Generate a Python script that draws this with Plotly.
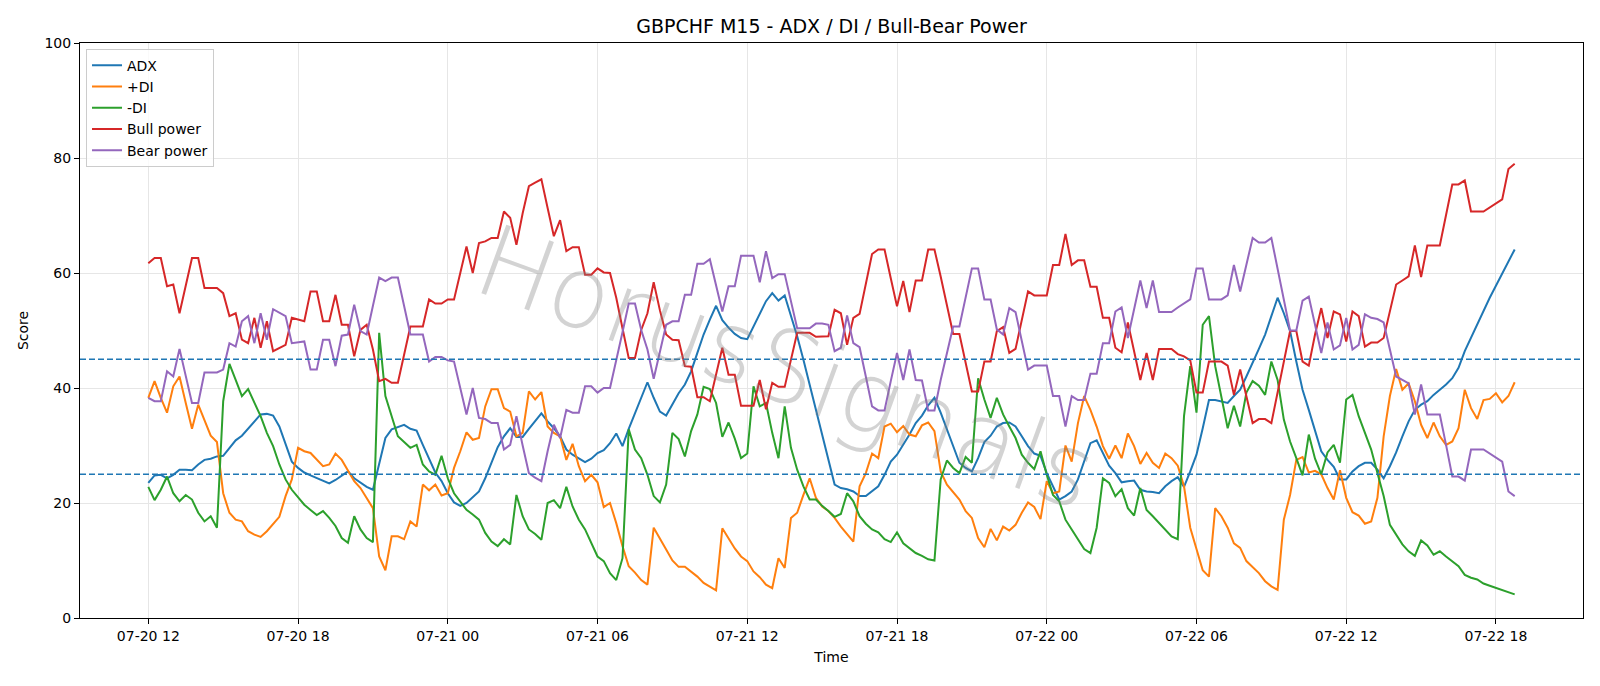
import pandas as pd
import plotly.graph_objects as go

# ---------------- data (M15 bars starting 07-20 12:00) ----------------
START = "2025-07-20 12:00"
N_BARS = 220
times = pd.date_range(START, periods=N_BARS, freq="15min")

adx = [
    23.5, 24.8, 24.9, 24.3, 24.9, 25.8, 25.8, 25.7, 26.7, 27.5,
    27.7, 28.1, 28.2, 29.6, 30.9, 31.7, 32.9, 34.2, 35.4, 35.5,
    35.2, 33.3, 30.4, 27.2, 26.1, 25.3, 24.8, 24.3, 23.8, 23.4,
    24.0, 24.8, 25.5, 24.3, 23.5, 22.8, 22.3, 27.0, 31.3, 32.8,
    33.2, 33.6, 32.9, 32.6, 30.1, 27.8, 25.3, 23.8, 21.7, 20.1,
    19.5, 20.0, 21.0, 22.0, 24.3, 27.0, 29.7, 31.6, 33.0, 31.5,
    31.5, 32.9, 34.2, 35.6, 34.2, 33.0, 31.6, 29.3, 28.4, 27.7,
    27.1, 27.7, 28.7, 29.2, 30.4, 32.1, 29.9, 32.9, 35.7, 38.3,
    41.0, 38.3, 35.9, 35.2, 37.1, 39.1, 40.6, 42.9, 46.1, 49.3,
    51.9, 54.3, 51.8, 50.5, 49.4, 48.7, 48.5, 50.7, 53.0, 55.1,
    56.5, 55.2, 56.1, 52.5, 49.0, 44.9, 40.6, 36.2, 31.6, 27.2,
    23.2, 22.6, 22.4, 22.0, 21.2, 21.2, 22.0, 22.9, 24.9, 27.2,
    28.4, 30.1, 31.9, 33.9, 35.2, 37.0, 38.3, 35.7, 32.8, 29.6,
    27.0, 26.1, 25.5, 27.8, 30.6, 31.7, 33.3, 33.9, 34.0, 33.3,
    31.6, 29.9, 28.6, 28.2, 25.2, 22.9, 20.6, 21.2, 22.0, 24.1,
    27.2, 30.4, 30.9, 28.8, 26.5, 25.2, 23.6, 23.8, 23.9, 22.3,
    22.0, 21.9, 21.7, 22.9, 23.8, 24.5, 22.8, 25.5, 28.4, 33.0,
    37.9, 37.9, 37.7, 37.4, 38.6, 39.7, 42.0, 44.3, 46.8, 49.3,
    52.5, 55.7, 53.0, 49.9, 44.6, 39.7, 36.2, 32.5, 29.0, 27.5,
    26.3, 24.1, 24.1, 25.5, 26.4, 27.0, 27.0, 25.8, 24.3, 26.4,
    28.8, 31.6, 34.2, 36.2, 37.1, 37.7, 38.8, 39.7, 40.6, 41.7,
    43.5, 46.4, None, None, None, 55.7, None, None, None, 64.1,
]

plus_di = [
    38.3, 41.2, 38.3, 35.7, 40.3, 42.0, 37.4, 32.9, 37.1, 34.5,
    31.7, 30.6, 21.7, 18.3, 17.1, 16.8, 15.1, 14.5, 14.1, 15.1,
    16.4, 17.6, 21.2, 24.1, 29.6, 29.0, 28.7, 27.5, 26.4, 26.7,
    28.6, 27.5, 25.6, 23.8, 22.6, 20.9, 19.1, 10.7, 8.3, 14.2,
    14.2, 13.7, 16.8, 15.9, 23.2, 22.2, 23.2, 21.3, 21.7, 26.1,
    29.0, 32.3, 31.0, 31.3, 36.8, 39.8, 39.8, 36.5, 35.9, 31.6,
    32.2, 39.4, 38.0, 39.3, 33.3, 32.2, 31.6, 27.5, 30.3, 26.4,
    23.8, 24.9, 23.6, 19.3, 20.0, 16.5, 12.5, 9.0, 7.9, 6.6,
    5.8, 15.7, 13.9, 11.9, 10.0, 8.9, 8.9, 8.1, 7.2, 6.1,
    5.4, 4.8, 15.6, 13.8, 12.1, 10.7, 9.9, 8.1, 7.1, 5.8,
    5.2, 10.4, 8.7, 17.4, 18.3, 21.4, 24.3, 20.9, 19.4, 18.6,
    17.4, 15.9, 14.5, 13.3, 22.9, 25.2, 28.6, 27.8, 33.3, 33.8,
    32.3, 33.4, 31.9, 31.6, 33.5, 34.0, 32.5, 25.5, 23.2, 21.9,
    20.6, 18.6, 17.4, 13.9, 12.3, 15.5, 13.5, 15.9, 15.2, 16.2,
    18.3, 20.1, 19.3, 17.2, 23.8, 21.7, 22.0, 30.0, 27.2, 33.9,
    38.6, 36.2, 33.3, 29.9, 27.7, 30.0, 27.8, 32.1, 29.9, 26.8,
    28.7, 27.0, 26.1, 28.6, 27.8, 26.5, 22.9, 15.7, 11.9, 8.3,
    7.2, 19.1, 17.7, 15.7, 13.0, 12.2, 9.9, 8.9, 7.8, 6.4,
    5.5, 4.9, 17.1, 21.4, 27.5, 28.0, 25.3, 25.6, 25.0, 22.6,
    20.6, 25.7, 20.9, 18.4, 17.8, 16.4, 16.8, 20.9, 31.6, 38.6,
    43.3, 39.7, 40.8, 37.7, 33.6, 31.3, 34.0, 31.6, 30.1, 30.7,
    33.0, 39.7, 36.5, 34.6, 37.9, 38.1, 39.1, 37.5, 38.6, 41.0,
]

minus_di = [
    22.8, 20.5, 22.3, 24.6, 21.7, 20.3, 21.4, 20.6, 18.3, 16.8,
    17.7, 15.7, 37.7, 44.2, 41.4, 38.6, 39.8, 37.4, 35.1, 32.2,
    29.9, 26.7, 24.1, 22.3, 20.9, 19.7, 18.8, 17.9, 18.6, 17.4,
    16.0, 13.9, 13.1, 17.7, 15.4, 13.9, 13.2, 49.6, 38.6, 35.1,
    31.6, 30.6, 29.6, 30.1, 26.7, 25.5, 24.9, 28.2, 24.3, 21.7,
    20.3, 18.8, 18.0, 17.1, 14.8, 13.3, 12.5, 13.7, 12.8, 21.4,
    17.7, 15.4, 14.6, 13.6, 20.0, 20.5, 19.1, 22.8, 19.4, 17.1,
    15.4, 13.0, 10.7, 9.9, 7.8, 6.6, 10.4, 32.8, 29.3, 27.8,
    24.9, 21.2, 20.1, 23.2, 32.2, 31.1, 28.1, 32.5, 35.4, 40.2,
    39.8, 37.4, 31.5, 34.0, 31.2, 27.8, 28.6, 40.3, 36.8, 37.4,
    32.2, 27.8, 36.8, 29.6, 25.8, 22.9, 20.6, 20.6, 19.5, 18.6,
    17.6, 18.1, 21.7, 20.3, 17.7, 16.4, 15.4, 14.9, 13.7, 13.2,
    14.9, 13.0, 12.2, 11.3, 10.8, 10.2, 10.0, 24.1, 27.4, 26.1,
    25.2, 28.0, 27.0, 41.7, 38.0, 34.8, 38.3, 35.4, 33.3, 31.3,
    28.4, 27.0, 25.9, 29.0, 24.9, 21.4, 20.3, 17.1, 15.4, 13.6,
    12.0, 11.3, 15.7, 24.3, 23.5, 21.2, 22.4, 19.1, 17.8, 22.6,
    18.8, 17.7, 16.5, 15.4, 14.2, 13.7, 35.1, 43.8, 35.7, 51.0,
    52.5, 43.8, 38.6, 33.0, 36.9, 33.3, 39.2, 41.2, 40.4, 38.8,
    44.6, 41.4, 34.5, 30.7, 27.8, 24.8, 31.9, 27.7, 25.0, 28.8,
    30.1, 27.0, 38.0, 38.8, 35.1, 32.2, 29.3, 25.2, 21.2, 16.2,
    14.5, 12.8, 11.6, 10.8, 13.5, 12.6, 11.0, 11.6, 10.7, 9.9,
    9.0, 7.5, 7.0, 6.7, 6.0, 5.6, 5.2, 4.9, 4.5, 4.1,
]

bull_power = [
    61.7, 62.6, 62.6, 57.7, 58.0, 53.0, None, 62.6, 62.6, 57.4,
    57.4, 57.4, 56.5, 52.5, 53.0, 48.4, 47.8, 52.2, 47.0, 51.6,
    46.4, 47.0, 47.5, 52.2, 51.9, 51.6, 56.8, 56.8, 51.6, 51.6,
    56.2, 51.0, 51.0, 45.5, 50.1, 51.0, 46.7, 41.2, 41.6, 40.9,
    40.9, 45.8, 50.7, 50.7, 50.7, 55.4, 54.7, 54.7, 55.4, 55.4,
    60.0, 64.6, 60.0, 65.2, 65.5, 66.1, 66.1, 70.7, 69.6, 64.9,
    70.4, 75.1, 75.7, 76.3, 71.3, 66.4, 69.2, 63.8, 64.5, 64.5,
    59.7, 59.7, 60.8, 60.1, 60.0, 55.7, 50.4, 45.2, 45.2, 50.1,
    53.0, 58.4, 53.5, 49.3, 48.4, 48.3, 43.8, 43.7, 38.4, 38.4,
    37.7, None, 47.0, 42.3, 42.3, 36.9, 36.9, 36.9, 41.4, 36.3,
    40.9, 40.2, 40.2, 44.9, 49.6, 49.6, 49.6, 48.9, 48.9, 49.0,
    53.6, 53.0, 47.5, 52.2, 52.9, 58.3, 63.3, 64.1, 64.1, 59.1,
    54.2, 58.6, 53.2, 58.7, 58.7, 64.1, 64.1, 59.4, 54.5, 49.4,
    49.4, 44.6, 39.4, 39.4, 44.6, 44.6, 49.9, 50.6, 46.1, 46.8,
    51.6, 56.8, 56.1, 56.1, 56.1, 61.4, 61.4, 66.8, 61.4, 62.2,
    62.2, 57.6, 57.6, 52.2, 52.2, 47.0, 46.2, 51.4, 46.4, 41.4,
    46.1, 41.4, 46.8, 46.8, 46.8, 45.9, 45.5, 44.8, 39.2, 39.2,
    44.6, 44.6, 44.6, 43.9, 38.8, 43.2, 38.6, 33.9, 34.6, 34.6,
    33.9, 39.4, 44.6, 49.9, 49.9, 44.6, 43.9, 49.3, 53.9, 48.7,
    53.3, 52.8, 48.1, 53.3, 52.5, 47.2, 47.9, 47.9, 48.7, 53.3,
    58.0, 58.7, 59.4, 64.8, 59.3, 64.8, 64.8, 64.8, 70.1, 75.4,
    75.4, 76.1, 70.7, 70.7, 70.7, None, None, 72.8, 78.1, 79.0,
]

bear_power = [
    38.3, 37.7, 37.7, 42.9, 42.0, 46.8, None, 37.4, 37.4, 42.7,
    42.7, 42.7, 43.2, 47.8, 47.2, 51.6, 52.5, 47.8, 53.0, 48.4,
    53.7, 53.1, 52.5, 47.8, 48.0, 48.1, 43.2, 43.2, 48.4, 48.4,
    43.8, 49.1, 49.3, 54.5, 49.9, 49.3, 54.3, 59.2, 58.6, 59.2,
    59.2, 54.2, 49.3, 49.3, 49.3, 44.6, 45.4, 45.4, 44.8, 44.6,
    40.0, 35.4, 40.0, 34.8, 34.6, 33.9, 33.9, 29.3, 30.1, 35.1,
    30.0, 25.2, 24.4, 23.8, 29.0, 33.6, 31.3, 36.2, 35.7, 35.7,
    40.3, 40.3, 39.2, 40.0, 40.0, 44.6, 49.7, 54.7, 54.7, 50.1,
    46.7, 41.6, 46.4, 51.0, 51.6, 51.6, 56.2, 56.2, 61.6, 61.6,
    62.4, None, 53.3, 57.7, 57.7, 63.0, 63.0, 63.0, 58.4, 63.8,
    59.1, 59.8, 59.8, 55.1, 50.4, 50.4, 50.4, 51.2, 51.2, 51.0,
    46.4, 47.0, 52.6, 47.8, 47.1, 42.0, 36.8, 36.1, 36.1, 41.2,
    46.1, 41.4, 46.7, 41.4, 41.3, 36.1, 36.1, 41.4, 46.1, 50.7,
    50.7, 55.7, 60.8, 60.8, 55.4, 55.4, 50.2, 49.3, 53.9, 53.2,
    48.4, 43.2, 43.9, 43.9, 43.9, 38.6, 38.6, 33.3, 38.6, 37.9,
    37.9, 42.5, 42.5, 47.8, 47.8, 53.3, 54.0, 48.7, 53.6, 58.7,
    53.9, 58.7, 53.2, 53.2, 53.2, 54.0, 54.7, 55.4, 60.8, 60.8,
    55.4, 55.4, 55.4, 56.1, 61.4, 56.8, 61.4, 66.1, 65.3, 65.3,
    66.1, 60.9, 55.5, 50.0, 50.0, 55.2, 55.9, 51.0, 46.1, 51.4,
    46.7, 47.4, 52.2, 46.7, 47.5, 52.8, 52.2, 52.0, 51.4, 46.7,
    42.0, 41.4, 40.8, 35.4, 40.6, 35.4, 35.4, 35.4, 30.1, 24.6,
    24.6, 23.9, 29.3, 29.3, 29.3, None, None, 27.2, 22.0, 21.2,
]

series_names = ["ADX", "+DI", "-DI", "Bull power", "Bear power"]
series_colors = ["#1f77b4", "#ff7f0e", "#2ca02c", "#d62728", "#9467bd"]
levels = [25, 45]

TITLE = "GBPCHF M15 - ADX / DI / Bull-Bear Power"
WATERMARK = "HorusSignals"

# ---------------- figure ----------------
fig = go.Figure()
for name, vals, col in zip(series_names, [adx, plus_di, minus_di, bull_power, bear_power], series_colors):
    fig.add_trace(go.Scatter(x=times, y=vals, mode="lines", name=name,
                             line=dict(color=col, width=2), connectgaps=True))

for lv in levels:
    fig.add_hline(y=lv, line=dict(color="#1f77b4", width=1.3, dash="6px,3px"))

span = times[-1] - times[0]
x_range = [times[0] - 0.05 * span, times[-1] + 0.05 * span]

axis_common = dict(showline=True, linecolor="black", linewidth=1, mirror=True,
                   ticks="outside", ticklen=5, tickwidth=1, tickcolor="black",
                   showgrid=True, gridcolor="#e6e6e6", gridwidth=1, zeroline=False,
                   tickfont=dict(size=14, color="black"))

fig.update_xaxes(range=x_range, type="date", tick0="2025-07-20 00:00",
                 dtick=6 * 3600 * 1000, tickformat="%m-%d %H",
                 title=dict(text="Time", font=dict(size=14, color="black"), standoff=9),
                 **axis_common)
fig.update_yaxes(range=[0, 100], dtick=20,
                 title=dict(text="Score", font=dict(size=14, color="black"), standoff=12),
                 **axis_common)

fig.add_annotation(text=WATERMARK, xref="paper", yref="paper", x=0.47, y=0.435,
                   showarrow=False, textangle=20,
                   font=dict(size=100, color="rgba(128,128,128,0.35)",
                             family="DejaVu Sans", weight=200))

fig.update_layout(
    width=1600, height=686,
    margin=dict(l=80, r=17, t=43, b=68),
    paper_bgcolor="white", plot_bgcolor="white",
    font=dict(family="DejaVu Sans", size=14, color="black"),
    title=dict(text=TITLE, x=0.5, xref="paper", xanchor="center",
               y=1 - 26 / 686, yref="container", yanchor="middle",
               font=dict(size=19, color="black")),
    legend=dict(x=0.004, y=0.99, xanchor="left", yanchor="top",
                bgcolor="rgba(255,255,255,0.8)", bordercolor="#cccccc", borderwidth=1,
                font=dict(size=14, color="black")),
    showlegend=True,
)

fig.write_html("out.html")
